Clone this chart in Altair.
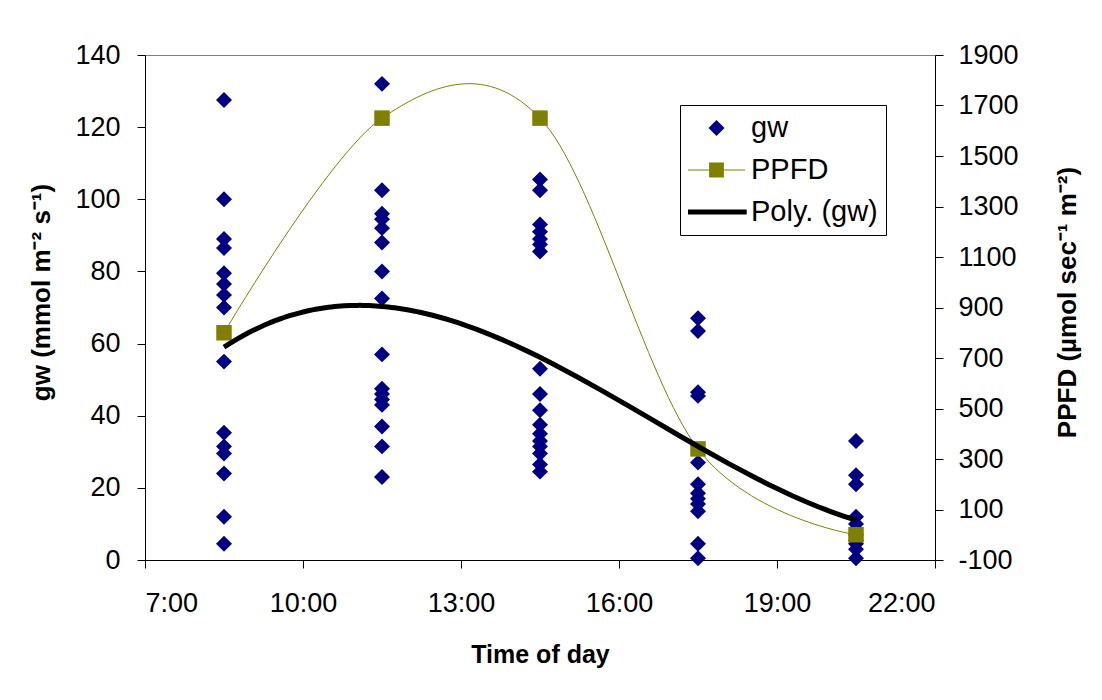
import altair as alt
import pandas as pd

# ---------------- data ----------------
hours = [8.5, 11.5, 14.5, 17.5, 20.5]
gw_0830 = [127.5, 100.0, 89.0, 86.5, 79.5, 76.5, 73.5, 70.0, 55.0, 35.3, 31.5, 29.5, 24.0, 12.0, 4.5]
gw_1130 = [132.0, 102.5, 96.0, 94.5, 92.0, 88.0, 80.0, 72.5, 57.0, 47.5, 46.0, 44.5, 43.0, 37.0, 31.5, 23.0]
gw_1430 = [105.5, 102.5, 93.0, 91.0, 89.0, 87.5, 85.5, 53.0, 46.0, 41.5, 37.5, 35.0, 33.0, 31.5, 29.5, 26.5, 24.5]
gw_1730 = [67.0, 63.5, 46.5, 45.5, 27.0, 21.0, 18.5, 17.0, 15.5, 13.5, 4.5, 0.5]
gw_2030 = [33.0, 23.5, 21.0, 12.0, 10.0, 7.0, 5.5, 4.5, 3.0, 0.5]
ppfd_values = [800, 1650, 1650, 340, 0]

series_names = ["gw", "PPFD", "Poly. (gw)"]
series_fill = ["#000080", "#808000", "#000000"]
series_shapes = [
    "M-0.28,0L0,-0.28L0.28,0L0,0.28Z",
    "M-1,-0.02H1V0.02H-1ZM-0.26,-0.26H0.26V0.26H-0.26Z",
    "M-1.06,-0.085H1.06V0.085H-1.06Z",
]

x_ticks = [7, 10, 13, 16, 19, 22]
left_ticks = [0, 20, 40, 60, 80, 100, 120, 140]
right_ticks = [-100, 100, 300, 500, 700, 900, 1100, 1300, 1500, 1700, 1900]

# ---------------- tables ----------------
rows = []
for t, vals in zip(hours, [gw_0830, gw_1130, gw_1430, gw_1730, gw_2030]):
    for v in vals:
        rows.append({"t": t, "gw": v, "series": "gw"})
gw_df = pd.DataFrame(rows)
ppfd_df = pd.DataFrame({"t": hours, "ppfd": ppfd_values})

FONT = "Liberation Sans"
x_scale = alt.Scale(domain=[7, 22], nice=False, zero=False)
left_scale = alt.Scale(domain=[0, 140], nice=False, zero=False)
right_scale = alt.Scale(domain=[-100, 1900], nice=False, zero=False)


def make_x_axis():
    return alt.Axis(
        orient="bottom", values=x_ticks, labelExpr="datum.value + ':00'", title="Time of day",
        labelPadding=22, titleY=102, titleBaseline="alphabetic",
    )


left_axis = alt.Axis(
    orient="left", values=left_ticks, title="gw (mmol m⁻² s⁻¹)",
    labelExpr="'' + datum.value",
    labelPadding=17, titleAngle=270, titleX=-96, titleY=237,
    titleBaseline="alphabetic", titleAlign="center", titleFontSize=26,
)
right_axis = alt.Axis(
    orient="right", values=right_ticks, title="PPFD (µmol sec⁻¹ m⁻²)",
    labelExpr="'' + datum.value",
    labelPadding=15, titleAngle=270, titleX=140, titleY=247,
    titleBaseline="alphabetic", titleAlign="center", titleFontSize=26,
)


def make_legend():
    return alt.Legend(
        title=None, orient="none", legendX=535, legendY=50,
        strokeColor="#000000", fillColor="#ffffff", padding=8,
        symbolSize=3249, clipHeight=30, rowPadding=12, symbolOpacity=1,
        symbolStrokeWidth=0,
        labelFont=FONT, labelFontSize=29, labelColor="#000000", labelOffset=6,
        labelLimit=300,
    )


scatter = alt.Chart(gw_df).mark_point(
    filled=True, size=3249, opacity=1, strokeWidth=0
).encode(
    x=alt.X("t:Q", scale=x_scale, axis=make_x_axis()),
    y=alt.Y("gw:Q", scale=left_scale, axis=left_axis),
    fill=alt.Fill("series:N", scale=alt.Scale(domain=series_names, range=series_fill), legend=make_legend()),
    shape=alt.Shape("series:N", scale=alt.Scale(domain=series_names, range=series_shapes), legend=make_legend()),
)

ppfd_line = alt.Chart(ppfd_df).mark_line(
    color="#808000", strokeWidth=1, interpolate="cardinal", tension=0
).encode(
    x=alt.X("t:Q", scale=x_scale, axis=make_x_axis()),
    y=alt.Y("ppfd:Q", scale=right_scale, axis=right_axis),
)

ppfd_pts = alt.Chart(ppfd_df).mark_point(
    shape="square", filled=True, size=240, opacity=1, color="#808000", strokeWidth=0
).encode(
    x=alt.X("t:Q", scale=x_scale, axis=make_x_axis()),
    y=alt.Y("ppfd:Q", scale=right_scale, axis=None),
)

poly = alt.Chart(gw_df).transform_regression(
    "t", "gw", method="poly", order=3
).mark_line(color="#000000", strokeWidth=5).encode(
    x=alt.X("t:Q", scale=x_scale, axis=make_x_axis()),
    y=alt.Y("gw:Q", scale=left_scale, axis=None),
)

chart = alt.layer(scatter, ppfd_line, ppfd_pts, poly).resolve_scale(
    y="independent"
).properties(
    width=790, height=505,
    autosize=alt.AutoSizeParams(type="none"),
    padding={"left": 145, "top": 55, "right": 167, "bottom": 140},
    background="#ffffff",
).configure_view(
    stroke="#808080", strokeWidth=1
).configure_axis(
    labelFont=FONT, labelFontSize=27, labelColor="#000000",
    titleFont=FONT, titleFontSize=25, titleFontWeight="bold", titleColor="#000000",
    domainColor="#000000", domainWidth=1, tickColor="#000000", tickSize=8, tickWidth=1,
    grid=False,
)

chart.save("out.html", embed_options={"renderer": "svg", "actions": False})
